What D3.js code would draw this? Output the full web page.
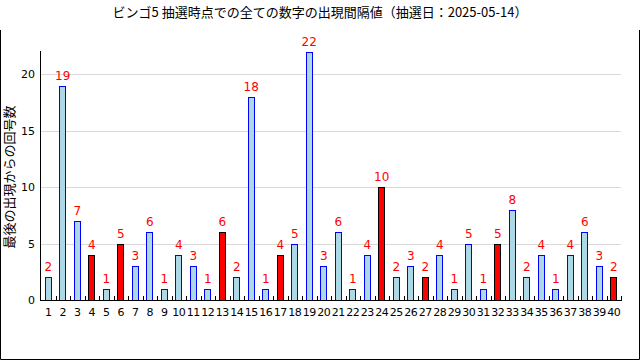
<!DOCTYPE html>
<html>
<head>
<meta charset="utf-8">
<script src="https://cdn.jsdelivr.net/npm/d3@7"></script>
<style>
  body { margin: 0; background: #fff; }
  svg { display: block; }
</style>
</head>
<body>
<svg id="chart" width="640" height="360"></svg>
<script>
// data
const numbers = d3.range(1, 41);
const intervals = [2, 19, 7, 4, 1, 5, 3, 6, 1, 4, 3, 1, 6, 2, 18, 1, 4, 5, 22, 3,
                   6, 1, 4, 10, 2, 3, 2, 4, 1, 5, 1, 5, 8, 2, 4, 1, 4, 6, 3, 2];
const drawn = [4, 6, 13, 17, 24, 27, 32, 40]; // numbers drawn this round
const yTicks = [0, 5, 10, 15, 20];
const titleText = "ビンゴ5 抽選時点での全ての数字の出現間隔値（抽選日：2025-05-14）";
const yLabel = "最後の出現からの回号数";

const data = numbers.map((n, i) => ({ num: n, val: intervals[i], hit: drawn.includes(n) }));

const svg = d3.select("#chart");
const plotLeft = 41, plotRight = 621, plotBottom = 300, plotTop = 51.7;

const x = d3.scaleBand()
    .domain(numbers)
    .range([plotLeft, plotRight])
    .paddingInner(0.52)
    .paddingOuter(0.26);

const y = d3.scaleLinear()
    .domain([0, 22])
    .range([plotBottom, plotTop]);

const jpFont = "'Noto Sans CJK JP', sans-serif";
const numFont = "'DejaVu Sans', sans-serif";

//frame (open at top)
svg.append("path")
    .attr("d", "M0.5,30V359.5H639.5V30")
    .attr("fill", "none")
    .attr("stroke", "#000");

//title
svg.append("text")
    .attr("x", 320).attr("y", 17)
    .attr("text-anchor", "middle")
    .style("font-family", jpFont)
    .style("font-size", "13px")
    .text(titleText);

//grid
svg.append("g")
  .selectAll("line")
  .data(yTicks.filter(d => d > 0))
  .enter().append("line")
    .attr("x1", plotLeft).attr("x2", plotRight)
    .attr("y1", d => Math.round(y(d)) + 0.5)
    .attr("y2", d => Math.round(y(d)) + 0.5)
    .attr("stroke", "#d9d9d9");

//y tick labels
svg.append("g")
  .selectAll("text")
  .data(yTicks)
  .enter().append("text")
    .attr("x", 35)
    .attr("y", d => y(d) + 4)
    .attr("text-anchor", "end")
    .style("font-family", numFont)
    .style("font-size", "11px")
    .text(d => d);

//y label
svg.append("text")
    .attr("transform", "translate(14,177) rotate(-90)")
    .attr("text-anchor", "middle")
    .style("font-family", jpFont)
    .style("font-size", "13px")
    .text(yLabel);

//bars
svg.append("g")
  .selectAll("rect")
  .data(data)
  .enter().append("rect")
    .attr("x", d => Math.round(x(d.num)) + 0.5)
    .attr("y", d => Math.round(y(d.val)) + 0.5)
    .attr("width", Math.round(x.bandwidth()) - 1)
    .attr("height", d => plotBottom - Math.round(y(d.val)))
    .attr("fill", d => d.hit ? "#ff0000" : "#add8e6")
    .attr("stroke", d => d.hit ? "#000" : "#0000ff");

//value labels
svg.append("g")
  .selectAll("text")
  .data(data)
  .enter().append("text")
    .attr("x", d => x(d.num) + x.bandwidth() / 2)
    .attr("y", d => y(d.val) - 6)
    .attr("text-anchor", "middle")
    .attr("fill", "#ff0000")
    .style("font-family", numFont)
    .style("font-size", "12px")
    .text(d => d.val);

//axes lines
svg.append("line")
    .attr("x1", 40.5).attr("x2", 40.5)
    .attr("y1", 51).attr("y2", plotBottom + 1)
    .attr("stroke", "#000");
svg.append("line")
    .attr("x1", 40).attr("x2", plotRight + 1)
    .attr("y1", plotBottom + 0.5).attr("y2", plotBottom + 0.5)
    .attr("stroke", "#000");

//x ticks at band boundaries, pointing up
const step = x.step();
svg.append("g")
  .selectAll("line")
  .data(numbers)
  .enter().append("line")
    .attr("x1", d => Math.round(x(d) - x.paddingInner() * step / 2 + step) + 0.5)
    .attr("x2", d => Math.round(x(d) - x.paddingInner() * step / 2 + step) + 0.5)
    .attr("y1", plotBottom).attr("y2", plotBottom - 4)
    .attr("stroke", "#000");

//x labels
svg.append("g")
  .selectAll("text")
  .data(numbers)
  .enter().append("text")
    .attr("x", d => x(d) + x.bandwidth() / 2)
    .attr("y", 316)
    .attr("text-anchor", "middle")
    .style("font-family", numFont)
    .style("font-size", "11px")
    .style("letter-spacing", "-0.5px")
    .text(d => d);
</script>
</body>
</html>
